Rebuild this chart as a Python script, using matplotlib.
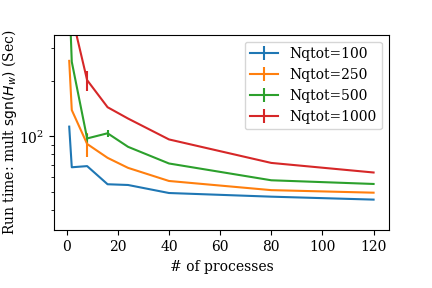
import numpy as np
import matplotlib
matplotlib.use("Agg")
import matplotlib.pyplot as plt

plt.rcParams['font.family'] = 'serif'
plt.rcParams['font.serif'] = ['DejaVu Serif']

# number of processes
procs = [1, 2, 8, 16, 24, 40, 80, 120]

# run times (sec)
t_100 = [113, 68, 69, 55, 54.5, 49.3, 47.1, 45.4]
t_250 = [257, 139, 91, 76.5, 67.5, 57.3, 51.1, 49.5]
t_500 = [600, 254, 97.5, 104, 87.8, 71.3, 57.8, 55.2]
t_1000 = [900, 456, 202, 144, 125, 96.3, 71.8, 63.7]

# error bars (only a few are visible)
e_100 = [0, 0, 0, 0, 0, 0, 0, 0]
e_250 = [0, 0, 14, 0, 0, 0, 0, 0]
e_500 = [0, 0, 5, 5, 0, 0, 0, 0]
e_1000 = [0, 0, 25, 0, 0, 0, 0, 0]

labels = ['Nqtot=100', 'Nqtot=250', 'Nqtot=500', 'Nqtot=1000']

fig = plt.figure(figsize=(4.32, 2.88), dpi=100)
ax = fig.add_subplot(111)
fig.subplots_adjust(left=0.125, right=0.9, top=0.88, bottom=0.2)

for t, e, lab in zip([t_100, t_250, t_500, t_1000],
                     [e_100, e_250, e_500, e_1000], labels):
    ax.errorbar(procs, t, yerr=e, label=lab)

ax.set_yscale('log')
ax.set_ylim(30.9, 357)
ax.set_xlabel('# of processes')
ax.set_ylabel(r'Run time: mult $\mathrm{sgn}(H_w)$ (Sec)')
ax.yaxis.set_label_coords(-0.105, 0.5)
ax.legend(loc='upper right')

fig.savefig('out.png', dpi=100)
